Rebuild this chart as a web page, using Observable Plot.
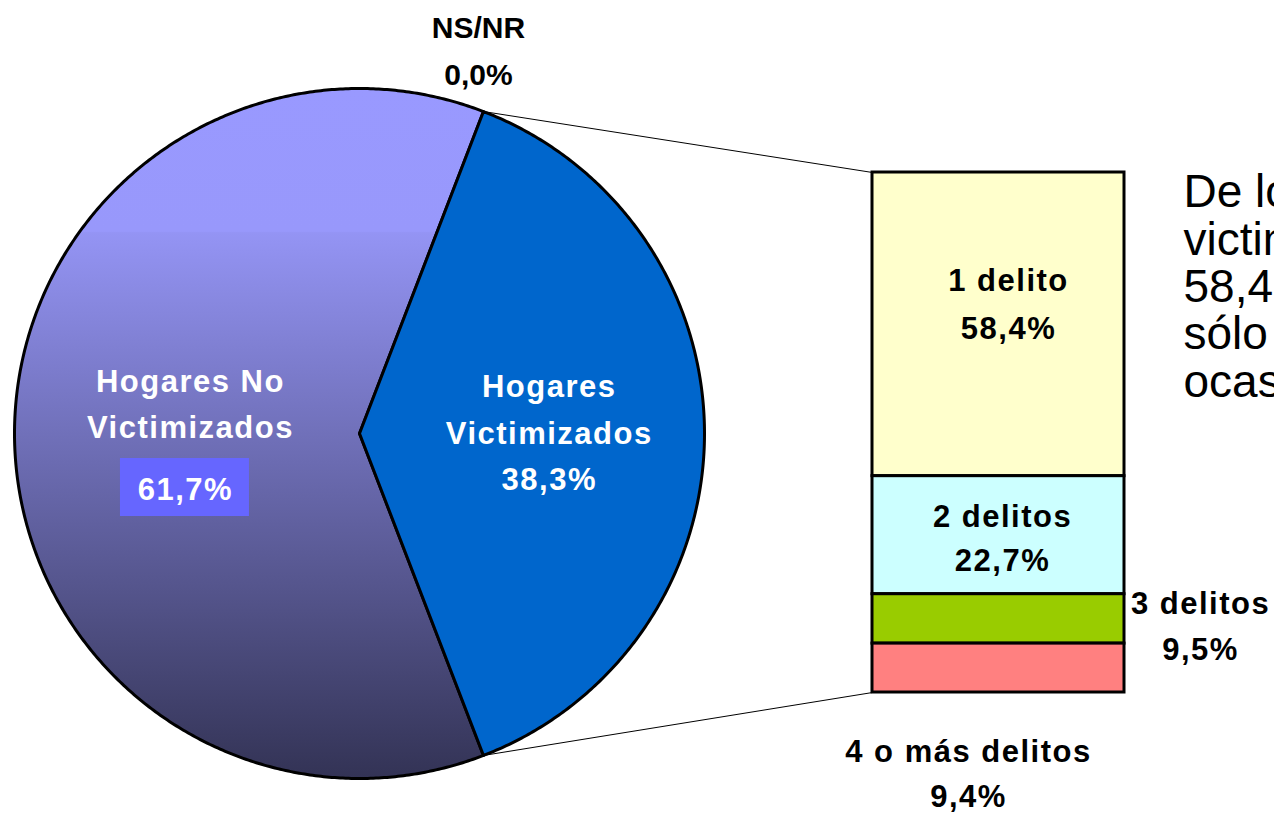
<!DOCTYPE html>
<html><head><meta charset="utf-8">
<script src="https://cdn.jsdelivr.net/npm/d3@7"></script>
<script src="https://cdn.jsdelivr.net/npm/@observablehq/plot@0.6"></script>
<style>
html,body{margin:0;padding:0;background:#fff;overflow:hidden;}
</style></head>
<body><div id="chart"></div>
<script>
// ---- data ----
const pieCategories = ["NS/NR", "Hogares Victimizados", "Hogares No Victimizados"];
const pieValues = [0.0, 38.3, 61.7];
const pieValueLabels = ["0,0%", "38,3%", "61,7%"];
const barCategories = ["1 delito", "2 delitos", "3 delitos", "4 o más delitos"];
const barValues = [58.4, 22.7, 9.5, 9.4];
const barValueLabels = ["58,4%", "22,7%", "9,5%", "9,4%"];
const barColors = ["#FFFFCC", "#CCFFFF", "#99CC00", "#FF8080"];
const noteText = "De los hogares\nvictimizados, el\n58,4% lo fue\nsólo en una\nocasión";

// ---- layout ----
const W = 1274, H = 813;
const k = 5.2;                       // px per percentage point of the bar
const barLeftPx = 872, barBottomPx = 692, barWidthPx = 252;
const barW = barWidthPx / k;
const pieCx = (359 - barLeftPx) / k, pieCy = (barBottomPx - 433) / k, pieR = 345 / k;
const font = "Liberation Sans, Arial, Helvetica, sans-serif";
const LABEL_SIZE = 31;

// ---- pie geometry ----
const vicIdx = pieCategories.indexOf("Hogares Victimizados");
const nsIdx = pieCategories.indexOf("NS/NR");
const noIdx = pieCategories.indexOf("Hogares No Victimizados");
const total = d3.sum(pieValues);
const start = Math.PI / 2 - (pieValues[vicIdx] / total) * Math.PI - (pieValues[nsIdx] / total) * 2 * Math.PI;
const arcs = d3.pie().sort(null).startAngle(start).endAngle(start + 2 * Math.PI)(pieValues);
const pt = (a, r = pieR) => ({x: pieCx + r * Math.sin(a), y: pieCy + r * Math.cos(a)});
function slicePoints(arc) {
  const span = arc.endAngle - arc.startAngle;
  const n = Math.max(2, Math.ceil(span / 0.008));
  const pts = [pt(0, 0)];
  for (let i = 0; i <= n; i++) pts.push(pt(arc.startAngle + span * i / n));
  pts.push(pt(0, 0));
  return pts;
}
const mid = (arc) => (arc.startAngle + arc.endAngle) / 2;

// ---- bar data ----
const barData = barCategories.map((c, i) => ({category: c, value: barValues[i], label: barValueLabels[i], color: barColors[i]}));
let acc = 0;
const barMid = {};
for (let i = barValues.length - 1; i >= 0; i--) { barMid[barCategories[i]] = acc + barValues[i] / 2; acc += barValues[i]; }
const barTop = acc;

const vicArc = arcs[vicIdx], noArc = arcs[noIdx], nsArc = arcs[nsIdx];
const vicC = pt(mid(vicArc), pieR * 0.55);
const noC = pt(mid(noArc), pieR * 0.49);
const nsP = pt(nsArc.startAngle);

const pA = pt(vicArc.startAngle), pB = pt(vicArc.endAngle);
const connectors = [
  {x1: pA.x, y1: pA.y, x2: 0, y2: barTop},
  {x1: pB.x, y1: pB.y, x2: 0, y2: 0}
];

const boxCx = noC.x - 5.5 / k, boxCy = noC.y - 54 / k;
const box = [{x1: boxCx - 64.5 / k, x2: boxCx + 64.5 / k, y1: boxCy - 29 / k, y2: boxCy + 29 / k}];

const barLabel = (cat, x, dx, dy, lh) => Plot.text([barData.find(d => d.category === cat)], {
  x: () => x, y: d => barMid[d.category], text: d => d.category + "\n" + d.label,
  dx, dy, fontSize: LABEL_SIZE, fontWeight: "bold", lineHeight: lh, fill: "black", fontFamily: font
});

const chart = Plot.plot({
  width: W, height: H, margin: 0,
  x: {domain: [-barLeftPx / k, (W - barLeftPx) / k], range: [0, W], axis: null},
  y: {domain: [-(H - barBottomPx) / k, barBottomPx / k], range: [H, 0], axis: null},
  color: {type: "identity"},
  style: {background: "white", fontFamily: font},
  marks: [
    Plot.link(connectors, {x1: "x1", y1: "y1", x2: "x2", y2: "y2", stroke: "black", strokeWidth: 1}),
    Plot.line(slicePoints(noArc), {x: "x", y: "y", fill: "url(#noVicGrad)", stroke: "black", strokeWidth: 3, strokeLinejoin: "round"}),
    Plot.line(slicePoints(vicArc), {x: "x", y: "y", fill: "#0066CC", stroke: "black", strokeWidth: 3, strokeLinejoin: "round"}),
    Plot.rectY(barData, {x1: () => 0, x2: () => barW, y: "value", fill: "color", reverse: true, stroke: "black", strokeWidth: 3}),
    Plot.rect(box, {x1: "x1", x2: "x2", y1: "y1", y2: "y2", fill: "#6666FF"}),
    Plot.text([pieCategories[vicIdx]], {x: () => vicC.x, y: () => vicC.y, text: () => "Hogares\nVictimizados\n" + pieValueLabels[vicIdx],
      dy: -4.5, fill: "white", fontSize: LABEL_SIZE, fontWeight: "bold", lineHeight: 1.5, fontFamily: font}),
    Plot.text([pieCategories[noIdx]], {x: () => noC.x, y: () => noC.y, text: () => "Hogares No\nVictimizados",
      dy: -33, fill: "white", fontSize: LABEL_SIZE, fontWeight: "bold", lineHeight: 1.47, fontFamily: font}),
    Plot.text([pieValueLabels[noIdx]], {x: () => noC.x, y: () => noC.y, text: d => d,
      dx: -5, dy: 57, fill: "white", fontSize: LABEL_SIZE, fontWeight: "bold", fontFamily: font}),
    Plot.text([pieCategories[nsIdx]], {x: () => nsP.x, y: () => nsP.y, text: d => d + "\n" + pieValueLabels[nsIdx],
      dx: -5, dy: -65.5, fill: "black", fontSize: 30, fontWeight: "bold", lineHeight: 1.57, fontFamily: font}),
    barLabel("1 delito", barW / 2, 10, -25, 1.55),
    barLabel("2 delitos", barW / 2, 4, 0, 1.42),
    barLabel("3 delitos", barW, 76, 3, 1.48),
    barLabel("4 o más delitos", barW / 2, -30, 102, 1.45),
    Plot.text([noteText], {frameAnchor: "top-left", text: d => d, dx: 1183, dy: 173, textAnchor: "start", lineAnchor: "top",
      fontSize: 46, lineHeight: 1.03, fill: "black", fontFamily: font})
  ]
});

const svg = d3.select(chart);
// letter spacing for the bold data labels
svg.selectAll(`g[font-size="${LABEL_SIZE}"]`).style("letter-spacing", "1.5px");
// gradient definition for the "No Victimizados" slice
const defs = svg.insert("defs", ":first-child");
const g = defs.append("linearGradient").attr("id", "noVicGrad").attr("x1", 0).attr("y1", 0).attr("x2", 0).attr("y2", 1);
[["0", "#9999FF"], ["0.207", "#9898FB"], ["0.209", "#9494F4"], ["1", "#333355"]].forEach(([o, c]) =>
  g.append("stop").attr("offset", o).attr("stop-color", c));

document.getElementById("chart").appendChild(chart);
</script>
</body></html>
